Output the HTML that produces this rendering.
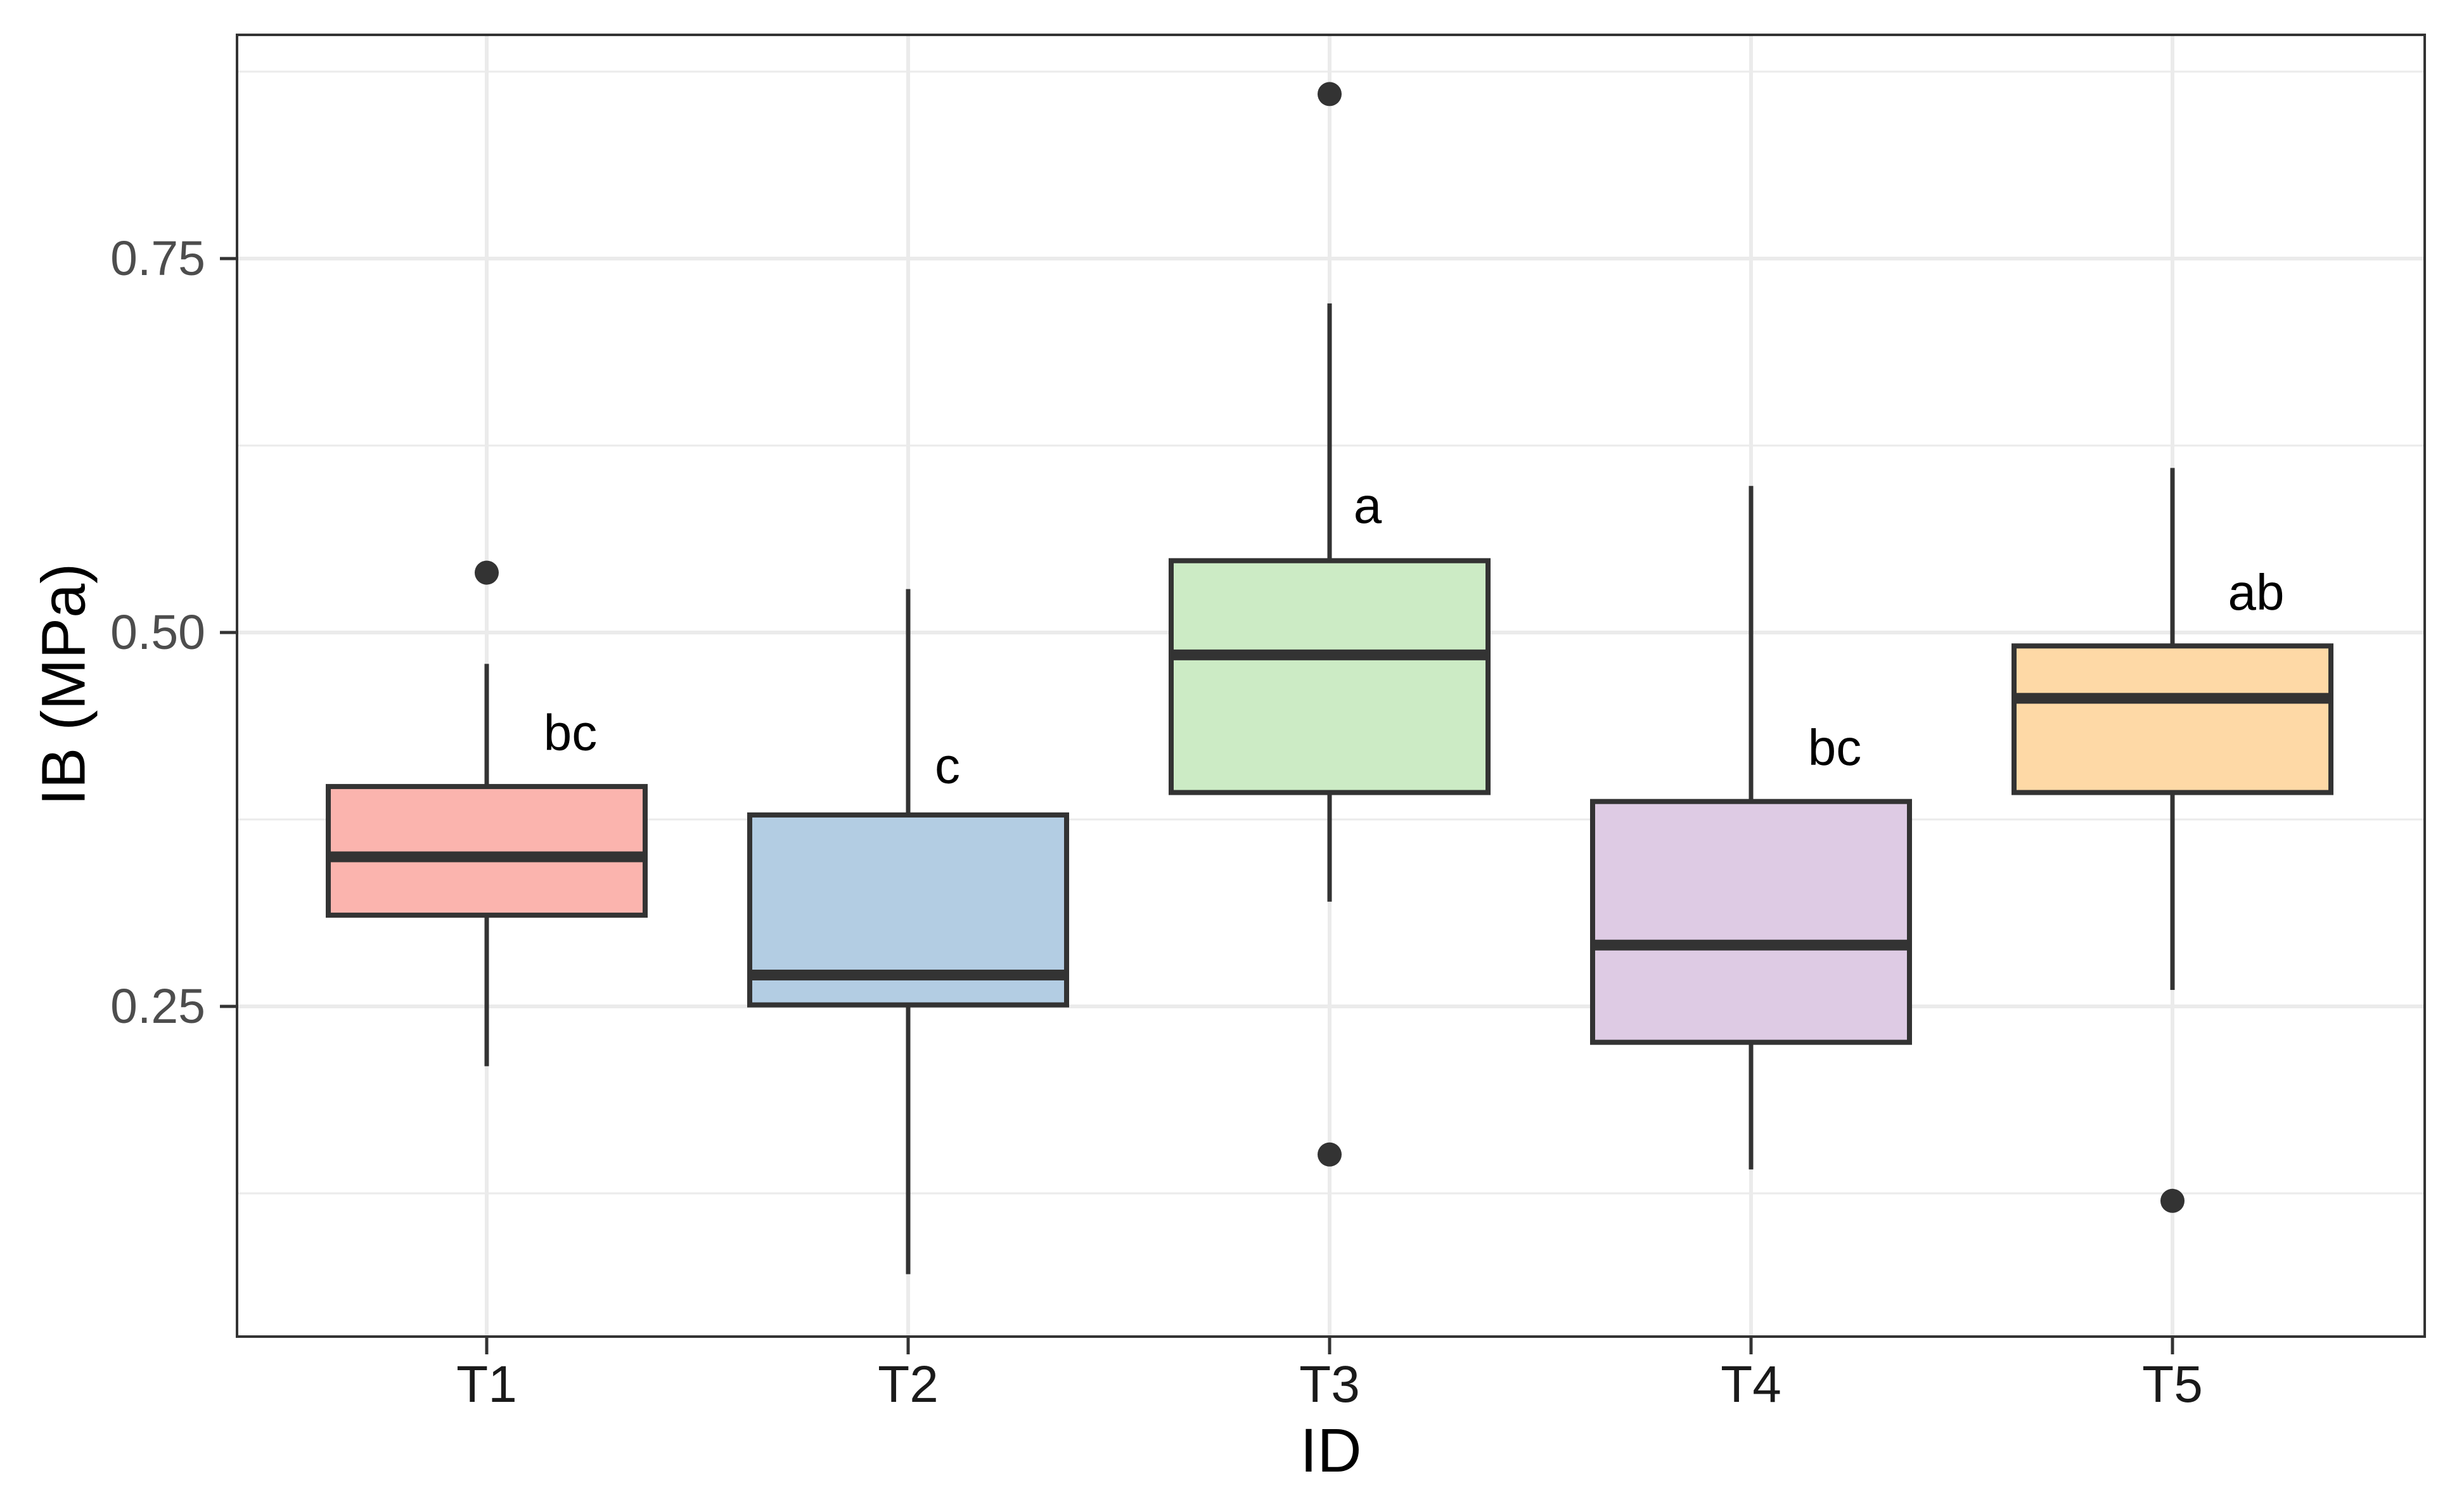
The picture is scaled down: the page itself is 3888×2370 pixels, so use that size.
<!DOCTYPE html>
<html><head><meta charset="utf-8"><style>
html,body{margin:0;padding:0;background:#fff}
svg{display:block}
text{font-family:"Liberation Sans",Arial,sans-serif}
</style></head><body>
<svg id="chart" width="3888" height="2370" viewBox="0 0 3888 2370" xmlns="http://www.w3.org/2000/svg">
<rect width="3888" height="2370" fill="#fff"/>
<g id="grid"></g>
<g id="marks"></g>
<g id="axes"></g>
<text x="100" y="1080" font-size="97" fill="#000" text-anchor="middle" transform="rotate(-90 100 1080)" dominant-baseline="central">IB (MPa)</text>
<text x="2100" y="2322" font-size="97" fill="#000" text-anchor="middle">ID</text>
</svg>
<script>
const categories = ["T1","T2","T3","T4","T5"];
const whiskerLow = [0.210,0.071,0.320,0.141,0.261];
const q1 = [0.311,0.251,0.393,0.226,0.393];
const median = [0.350,0.271,0.485,0.291,0.456];
const q3 = [0.397,0.378,0.548,0.387,0.491];
const whiskerHigh = [0.479,0.529,0.720,0.598,0.610];
const outlierCat = [0,2,2,4];
const outlierVal = [0.540,0.860,0.151,0.120];
const letters = ["bc","c","a","bc","ab"];
const letterVal = [0.433,0.411,0.585,0.423,0.527];
const yTicks = [0.25,0.50,0.75];
const yTickLabels = ["0.25","0.50","0.75"];
const yMinor = [0.125,0.375,0.625,0.875];
const fills = ["#FBB4AE","#B3CDE3","#CCEBC5","#DECBE4","#FED9A6"];

const L=374,R=3826,T=55,B=2109;
const yS = v => 998 - (v-0.5)*2360;
const xS = i => 768 + i*665;
const BW = 500;
const NS="http://www.w3.org/2000/svg";
function mk(tag, attrs, parent){const e=document.createElementNS(NS,tag);for(const k in attrs)e.setAttribute(k,attrs[k]);parent.appendChild(e);return e;}
const grid=document.getElementById('grid'), marks=document.getElementById('marks'), axes=document.getElementById('axes');

yMinor.forEach(v=>{const y=yS(v); if(y>T&&y<B){const l=mk('line',{x1:L,x2:R,y1:y,y2:y,stroke:'#ebebeb','stroke-width':3},grid);

}});
yTicks.forEach(v=>{const y=yS(v);const l=mk('line',{x1:L,x2:R,y1:y,y2:y,stroke:'#ebebeb','stroke-width':6},grid);

});
categories.forEach((c,i)=>{const x=xS(i);const l=mk('line',{x1:x,x2:x,y1:T,y2:B,stroke:'#ebebeb','stroke-width':6},grid);

});

categories.forEach((c,i)=>{
  const x=xS(i);
  const g=mk('g',{},marks);
  
  
  mk('line',{x1:x,x2:x,y1:yS(whiskerHigh[i]),y2:yS(q3[i]),stroke:'#333','stroke-width':7},g);
  mk('line',{x1:x,x2:x,y1:yS(q1[i]),y2:yS(whiskerLow[i]),stroke:'#333','stroke-width':7},g);
  mk('rect',{x:x-BW/2,y:yS(q3[i]),width:BW,height:yS(q1[i])-yS(q3[i]),fill:fills[i],stroke:'#333','stroke-width':8},g);
  mk('line',{x1:x-BW/2,x2:x+BW/2,y1:yS(median[i]),y2:yS(median[i]),stroke:'#333','stroke-width':17},g);
  const t=mk('text',{x:x+(i===2?60:i===1?62:132),y:yS(letterVal[i]),'font-size':80,fill:'#000','text-anchor':'middle','dominant-baseline':'central'},marks);
  t.textContent=letters[i];
  
  
});
outlierVal.forEach((v,k)=>{const c=mk('circle',{cx:xS(outlierCat[k]),cy:yS(v),r:19,fill:'#333'},marks);

});

const frame=mk('rect',{x:L,y:T,width:R-L,height:B-T,fill:'none',stroke:'#333','stroke-width':4},axes);


yTicks.forEach((v,k)=>{const y=yS(v);
  mk('line',{x1:L-27,x2:L,y1:y,y2:y,stroke:'#333','stroke-width':5},axes);
  const t=mk('text',{x:L-50,y:y,'font-size':77,fill:'#4d4d4d','text-anchor':'end','dominant-baseline':'central'},axes);
  t.textContent=yTickLabels[k];
  
  });
categories.forEach((c,i)=>{const x=xS(i);
  mk('line',{x1:x,x2:x,y1:B,y2:B+28,stroke:'#333','stroke-width':5},axes);
  const t=mk('text',{x:x,y:2212,'font-size':82,fill:'#1a1a1a','text-anchor':'middle'},axes);
  t.textContent=c;
  
  });
</script>
</body></html>
